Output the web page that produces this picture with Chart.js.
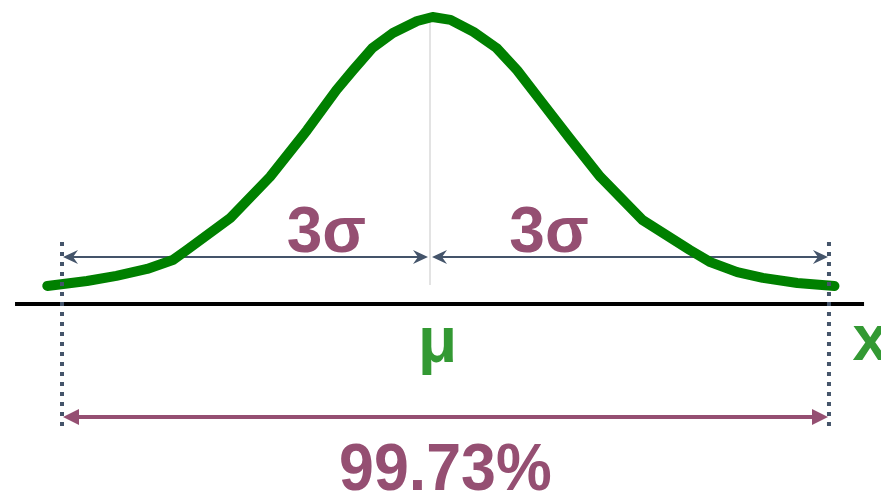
<!DOCTYPE html>
<html>
<head>
<meta charset="utf-8">
<script src="https://cdn.jsdelivr.net/npm/chart.js@4"></script>
<style>
  html, body { margin: 0; padding: 0; background: #fff; }
  #wrap { width: 881px; height: 492px; }
</style>
</head>
<body>
<div id="wrap"><canvas id="chart1"></canvas></div>
<script>
// Curve: x in sigma units from the mean, y relative to the peak
const curveX = [-2.99, -2.68, -2.45, -2.21, -2.01, -1.90, -1.56, -1.25, -0.96, -0.73, -0.60, -0.45, -0.29, -0.10, 0.02,
                0.16, 0.34, 0.52, 0.68, 0.86, 1.09, 1.33, 1.66, 2.03, 2.19, 2.40, 2.60, 2.87, 3.16];
const curveY = [0.063, 0.080, 0.098, 0.122, 0.153, 0.188, 0.300, 0.443, 0.606, 0.746, 0.815, 0.892, 0.944, 0.986, 1.000,
                0.990, 0.948, 0.892, 0.815, 0.711, 0.578, 0.443, 0.293, 0.188, 0.146, 0.111, 0.091, 0.073, 0.063];

// Markers
const meanX = 0;
const limitsX = [-2.875, 3.117];
const sigmaLabels = ['3σ', '3σ'];
const sigmaLabelX = [-0.81, 0.93];
const meanLabel = 'μ';
const axisLabel = 'x';
const coverLabel = '99.73%';

const purple = '#954f72';
const slate = '#44546a';
const green = '#339933';

function arrowHead(c, x, y, dir, len, half, notch) {
    c.beginPath();
    c.moveTo(x, y);
    c.lineTo(x - dir * len, y - half);
    c.lineTo(x - dir * (len - notch), y);
    c.lineTo(x - dir * len, y + half);
    c.closePath();
    c.fill();
}

const overlay = {
    id: 'overlay',
    beforeDatasetsDraw(chart) {
        const c = chart.ctx, xs = chart.scales.x, ys = chart.scales.y;
        c.save();
        // x axis line
        c.strokeStyle = '#000';
        c.lineWidth = 4;
        c.beginPath();
        c.moveTo(xs.getPixelForValue(-3.242), ys.getPixelForValue(0));
        c.lineTo(xs.getPixelForValue(3.391), ys.getPixelForValue(0));
        c.stroke();
        // mean line
        c.strokeStyle = '#e3e3e3';
        c.lineWidth = 2;
        c.beginPath();
        c.moveTo(xs.getPixelForValue(meanX), ys.getPixelForValue(1.0));
        c.lineTo(xs.getPixelForValue(meanX), ys.getPixelForValue(0.066));
        c.stroke();
        // 3 sigma arrows
        const ay = ys.getPixelForValue(0.164);
        const xm = xs.getPixelForValue(meanX);
        const xl = xs.getPixelForValue(limitsX[0]);
        const xr = xs.getPixelForValue(limitsX[1]);
        c.strokeStyle = slate;
        c.fillStyle = slate;
        c.lineWidth = 2;
        c.beginPath();
        c.moveTo(xl + 4, ay); c.lineTo(xm - 6, ay);
        c.moveTo(xm + 6, ay); c.lineTo(xr - 4, ay);
        c.stroke();
        arrowHead(c, xl + 1, ay, -1, 15, 7, 5);
        arrowHead(c, xm - 2, ay, 1, 15, 7, 5);
        arrowHead(c, xm + 2, ay, -1, 15, 7, 5);
        arrowHead(c, xr - 1, ay, 1, 15, 7, 5);
        c.restore();
    },
    afterDatasetsDraw(chart) {
        const c = chart.ctx, xs = chart.scales.x, ys = chart.scales.y;
        const xl = xs.getPixelForValue(limitsX[0]);
        const xr = xs.getPixelForValue(limitsX[1]);
        c.save();
        // dotted limits
        c.strokeStyle = slate;
        c.lineWidth = 4;
        c.setLineDash([4, 6]);
        limitsX.forEach(v => {
            const px = xs.getPixelForValue(v);
            c.beginPath();
            c.moveTo(px, ys.getPixelForValue(0.216));
            c.lineTo(px, ys.getPixelForValue(-0.439));
            c.stroke();
        });
        c.setLineDash([]);
        // 99.73% arrow
        const py = ys.getPixelForValue(-0.394);
        c.strokeStyle = purple;
        c.fillStyle = purple;
        c.lineWidth = 4;
        c.beginPath();
        c.moveTo(xl + 10, py); c.lineTo(xr - 10, py);
        c.stroke();
        arrowHead(c, xl + 1, py, -1, 16, 8, 0);
        arrowHead(c, xr - 1, py, 1, 16, 8, 0);
        // labels
        c.textAlign = 'center';
        c.textBaseline = 'alphabetic';
        c.font = 'bold 64px "Liberation Sans", Arial, sans-serif';
        sigmaLabels.forEach((t, i) => {
            c.fillText(t, xs.getPixelForValue(sigmaLabelX[i]), ys.getPixelForValue(0.181));
        });
        c.fillStyle = green;
        c.fillText(meanLabel, xs.getPixelForValue(0.06), ys.getPixelForValue(-0.202));
        c.textAlign = 'left';
        c.fillText(axisLabel, xs.getPixelForValue(3.30), ys.getPixelForValue(-0.195));
        c.fillStyle = purple;
        c.textAlign = 'center';
        c.font = 'bold 66px "Liberation Sans", Arial, sans-serif';
        c.save();
        c.translate(xs.getPixelForValue(0.12), ys.getPixelForValue(-0.648));
        c.scale(0.95, 1);
        c.fillText(coverLabel, 0, 0);
        c.restore();
        c.restore();
    }
};

const ctx = document.getElementById('chart1').getContext('2d');
const chart1 = new Chart(ctx, {
    type: 'line',
    data: {
        datasets: [
            {
                label: 'Normal distribution',
                data: curveX.map((x, i) => ({ x: x, y: curveY[i] })),
                borderColor: '#008000',
                borderWidth: 10,
                borderCapStyle: 'round',
                borderJoinStyle: 'round',
                pointRadius: 0,
                tension: 0,
                fill: false,
            }
        ],
    },
    options: {
        responsive: true,
        maintainAspectRatio: false,
        animation: false,
        layout: { padding: 0 },
        plugins: {
            legend: { display: false },
            tooltip: { enabled: false },
        },
        scales: {
            x: { type: 'linear', min: -3.359375, max: 3.5234375, display: false },
            y: { min: -0.655, max: 1.0592, display: false },
        },
    },
    plugins: [overlay],
});
</script>
</body>
</html>
